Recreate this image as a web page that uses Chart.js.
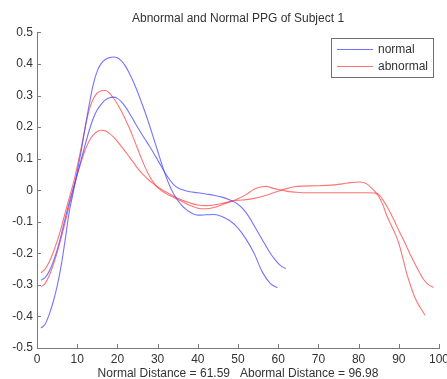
<!DOCTYPE html>
<html>
<head>
<meta charset="utf-8">
<title>Abnormal and Normal PPG of Subject 1</title>
<script src="https://cdn.jsdelivr.net/npm/chart.js@4.4.1/dist/chart.umd.min.js"></script>
<style>
  html, body { margin: 0; padding: 0; background: #fff; }
  #wrap { width: 447px; height: 379px; position: relative; }
</style>
</head>
<body>
<div id="wrap"><canvas id="ppgChart"></canvas></div>
<script>
// Eixos
const xTicks = [0, 10, 20, 30, 40, 50, 60, 70, 80, 90, 100];
const yTicks = [-0.5, -0.4, -0.3, -0.2, -0.1, 0, 0.1, 0.2, 0.3, 0.4, 0.5];
const seriesNames = ['normal', 'abnormal'];

// Normal 1 (pico alto)
const normal1X = [1,2,3,4,5,6,7,8,9,10,11,12,13,14,15,16,17,18,19,20,21,22,23,24,25,26,27,28,29,30,31,32,33,34,35,36,37,38,40,42,44,46,48,50,52,54,56,58,59.8];
const normal1Y = [-0.437,-0.425,-0.395,-0.355,-0.305,-0.24,-0.158,-0.07,-0.008,0.058,0.125,0.2,0.272,0.335,0.378,0.402,0.414,0.42,0.422,0.42,0.41,0.393,0.37,0.343,0.312,0.278,0.243,0.205,0.165,0.125,0.084,0.046,0.014,-0.012,-0.032,-0.048,-0.06,-0.069,-0.079,-0.078,-0.077,-0.083,-0.097,-0.12,-0.155,-0.2,-0.258,-0.295,-0.309];

// Normal 2
const normal2X = [1,2,3,4,5,6,7,8,9,10,11,12,13,14,15,16,17,18,19,20,21,22,23,24,25,26,27,28,29,30,31,32,33,34,35,36,38,40,42,44,46,48,49,50,51,52,53,54,55,56,57,58,59,60,61,61.9];
const normal2Y = [-0.285,-0.277,-0.258,-0.228,-0.19,-0.142,-0.09,-0.04,0.005,0.05,0.097,0.145,0.19,0.228,0.255,0.273,0.286,0.293,0.295,0.291,0.28,0.264,0.244,0.222,0.2,0.179,0.159,0.139,0.118,0.096,0.074,0.052,0.033,0.018,0.008,0.002,-0.005,-0.008,-0.012,-0.016,-0.022,-0.031,-0.037,-0.045,-0.056,-0.071,-0.09,-0.112,-0.134,-0.156,-0.178,-0.199,-0.217,-0.232,-0.243,-0.248];

// Anormal 1 (pico 0.31)
const abnormal1X = [1,2,3,4,5,6,7,8,9,10,11,12,13,14,15,16,17,18,19,20,21,22,23,24,25,26,27,28,29,30,31,32,33,34,36,38,40,42,44,46,48,50,52,54,56,57,58,60,62,64,66,70,74,78,82,84,85,86,87,88,89,90,91,92,93,94,95,96,97,98,98.6];
const abnormal1Y = [-0.262,-0.25,-0.228,-0.198,-0.162,-0.12,-0.072,-0.025,0.02,0.075,0.135,0.2,0.255,0.29,0.308,0.315,0.316,0.308,0.292,0.273,0.25,0.224,0.196,0.165,0.132,0.1,0.07,0.044,0.024,0.009,-0.002,-0.01,-0.017,-0.023,-0.035,-0.048,-0.057,-0.059,-0.055,-0.046,-0.037,-0.027,-0.014,0.003,0.011,0.012,0.009,0.002,-0.003,-0.006,-0.008,-0.008,-0.008,-0.008,-0.008,-0.009,-0.013,-0.03,-0.05,-0.074,-0.1,-0.128,-0.153,-0.18,-0.208,-0.233,-0.257,-0.28,-0.295,-0.304,-0.308];

// Anormal 2 (pico 0.19)
const abnormal2X = [1,2,3,4,5,6,7,8,9,10,11,12,13,14,15,16,17,18,19,20,21,22,23,24,25,26,27,28,29,30,32,34,36,38,40,42,44,46,48,50,52,54,56,58,60,62,64,66,70,74,76,78,80,81,82,83,84,85,86,87,88,89,90,91,92,93,94,95,96,96.5];
const abnormal2Y = [-0.306,-0.296,-0.272,-0.238,-0.198,-0.152,-0.102,-0.05,0.0,0.048,0.09,0.128,0.157,0.175,0.186,0.19,0.188,0.18,0.169,0.155,0.138,0.122,0.105,0.088,0.07,0.055,0.042,0.03,0.02,0.01,-0.005,-0.019,-0.031,-0.04,-0.047,-0.049,-0.047,-0.042,-0.036,-0.032,-0.03,-0.026,-0.02,-0.012,-0.003,0.005,0.011,0.013,0.014,0.017,0.02,0.024,0.026,0.025,0.02,0.01,-0.003,-0.02,-0.045,-0.08,-0.108,-0.135,-0.168,-0.215,-0.265,-0.305,-0.34,-0.365,-0.385,-0.396];

const colors = {
    normal: 'rgba(70, 70, 255, 0.75)',
    abnormal: 'rgba(255, 70, 70, 0.75)',
    axis: '#7a7a7a',
    text: '#333333'
};
const fontFamily = '"Liberation Sans", Arial, sans-serif';

function toPoints(xs, ys) {
    return xs.map((x, i) => ({ x: x, y: ys[i] }));
}

function fmtTick(v) {
    const r = Math.round(v * 10) / 10;
    return r === 0 ? '0' : String(r);
}

function makeSet(label, xs, ys, color) {
    return {
        label: label,
        data: toPoints(xs, ys),
        borderColor: color,
        backgroundColor: color,
        borderWidth: 1.1,
        pointRadius: 0,
        cubicInterpolationMode: 'monotone',
        fill: false
    };
}

// Marcas dos eixos para dentro, como no MATLAB
const innerTicks = {
    id: 'innerTicks',
    afterDraw(chart) {
        const { ctx, chartArea, scales } = chart;
        ctx.save();
        ctx.strokeStyle = colors.axis;
        ctx.lineWidth = 1;
        ctx.beginPath();
        xTicks.forEach(v => {
            const px = Math.round(scales.x.getPixelForValue(v)) + 0.5;
            ctx.moveTo(px, chartArea.bottom);
            ctx.lineTo(px, chartArea.bottom - 4);
        });
        yTicks.forEach(v => {
            const py = Math.round(scales.y.getPixelForValue(v)) + 0.5;
            ctx.moveTo(chartArea.left, py);
            ctx.lineTo(chartArea.left + 4, py);
        });
        ctx.stroke();
        ctx.restore();
    }
};

// Legenda com caixa no canto superior direito
const boxLegend = {
    id: 'boxLegend',
    afterDraw(chart) {
        const ctx = chart.ctx;
        const bx = 331, by = 38, bw = 102, bh = 39;
        ctx.save();
        ctx.fillStyle = '#ffffff';
        ctx.fillRect(bx, by, bw, bh);
        ctx.strokeStyle = '#6f6f6f';
        ctx.lineWidth = 1;
        ctx.strokeRect(bx + 0.5, by + 0.5, bw, bh);
        const rows = [colors.normal, colors.abnormal];
        ctx.font = '12px ' + fontFamily;
        ctx.textBaseline = 'middle';
        rows.forEach((c, i) => {
            const y = by + 11.5 + i * 17;
            ctx.strokeStyle = c;
            ctx.lineWidth = 1.1;
            ctx.beginPath();
            ctx.moveTo(bx + 6, y);
            ctx.lineTo(bx + 42, y);
            ctx.stroke();
            ctx.fillStyle = colors.text;
            ctx.fillText(seriesNames[i], bx + 47, y);
        });
        ctx.restore();
    }
};

const ctx = document.getElementById('ppgChart').getContext('2d');
const ppgChart = new Chart(ctx, {
    type: 'line',
    data: {
        datasets: [
            makeSet('normal', normal1X, normal1Y, colors.normal),
            makeSet('normal 2', normal2X, normal2Y, colors.normal),
            makeSet('abnormal', abnormal1X, abnormal1Y, colors.abnormal),
            makeSet('abnormal 2', abnormal2X, abnormal2Y, colors.abnormal)
        ]
    },
    options: {
        responsive: true,
        maintainAspectRatio: false,
        animation: false,
        layout: {
            padding: { top: 0, right: 8, bottom: 0, left: 0 }
        },
        plugins: {
            legend: { display: false },
            tooltip: { enabled: false },
            title: {
                display: true,
                text: 'Abnormal and Normal PPG of Subject 1',
                fullSize: false,
                color: colors.text,
                font: { size: 12, family: fontFamily, weight: 'normal', lineHeight: 1.2 },
                padding: { top: 11, bottom: 7 }
            }
        },
        scales: {
            x: {
                type: 'linear',
                min: 0,
                max: 100,
                afterBuildTicks: s => { s.ticks = xTicks.map(v => ({ value: v })); },
                afterFit: s => { s.height = 31; s.paddingRight = 0; s.paddingLeft = 0; },
                grid: { drawOnChartArea: false, drawTicks: false },
                border: { display: true, color: colors.axis, width: 1 },
                ticks: {
                    padding: 4,
                    color: colors.text,
                    font: { size: 12, family: fontFamily },
                    maxRotation: 0,
                    autoSkip: false,
                    callback: v => String(v)
                },
                title: {
                    display: true,
                    text: 'Normal Distance = 61.59   Abormal Distance = 96.98',
                    color: colors.text,
                    font: { size: 12, family: fontFamily, lineHeight: 1 },
                    padding: { top: 0, bottom: -1 }
                }
            },
            y: {
                type: 'linear',
                min: -0.5,
                max: 0.5,
                afterBuildTicks: s => { s.ticks = yTicks.map(v => ({ value: v })); },
                afterFit: s => { s.width = 37; s.paddingTop = 0; s.paddingBottom = 0; },
                grid: { drawOnChartArea: false, drawTicks: false },
                border: { display: true, color: colors.axis, width: 1 },
                ticks: {
                    padding: 4,
                    color: colors.text,
                    font: { size: 12, family: fontFamily },
                    autoSkip: false,
                    callback: v => fmtTick(v)
                }
            }
        }
    },
    plugins: [innerTicks, boxLegend]
});
</script>
</body>
</html>
